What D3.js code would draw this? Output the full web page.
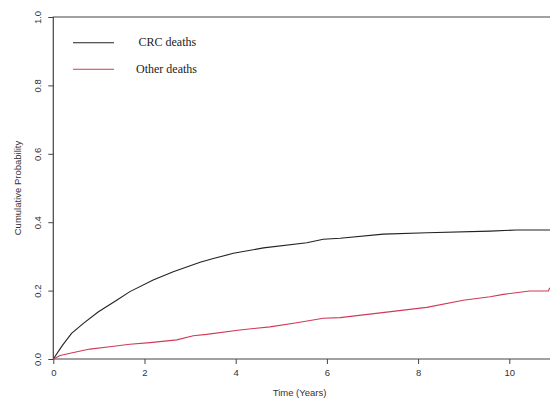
<!DOCTYPE html>
<html>
<head>
<meta charset="utf-8">
<script src="https://cdn.jsdelivr.net/npm/d3@7"></script>
<style>
  body { margin: 0; background: #fff; }
  svg { display: block; }
</style>
</head>
<body>
<figure id="chart" style="margin:0"></figure>
<script>
// values
const crcTime = [0, 0.2, 0.4, 0.66, 0.99, 1.39, 1.68, 2.19, 2.63, 3.22, 3.51, 3.95, 4.61, 5.56, 5.92, 6.29, 7.24, 8.2, 9.58, 10.16, 11];
const crcProb = [0, 0.04, 0.075, 0.104, 0.138, 0.172, 0.197, 0.231, 0.255, 0.283, 0.294, 0.309, 0.325, 0.34, 0.35, 0.353, 0.365, 0.369, 0.374, 0.377, 0.377];
const otherTime = [0, 0.15, 0.37, 0.8, 1.24, 1.68, 2.12, 2.71, 3.07, 3.36, 4.09, 4.75, 5.34, 5.92, 6.29, 6.8, 8.19, 8.99, 9.58, 9.87, 10.45, 10.86, 10.88, 11];
const otherProb = [0, 0.01, 0.017, 0.029, 0.036, 0.043, 0.048, 0.056, 0.068, 0.072, 0.085, 0.094, 0.106, 0.119, 0.121, 0.129, 0.151, 0.172, 0.182, 0.189, 0.199, 0.199, 0.207, 0.207];
const xTicks = [0, 2, 4, 6, 8, 10];
const yTicks = [0, 0.2, 0.4, 0.6, 0.8, 1.0];
const seriesNames = ['CRC deaths', 'Other deaths'];
const seriesColors = ['#222222', '#d03a55'];

const width = 550, height = 399;
const plotLeft = 53.3, plotTop = 17, plotBottom = 359;

const x = d3.scaleLinear().domain([0, 10]).range([plotLeft, 509.3]);
const y = d3.scaleLinear().domain([0, 1]).range([plotBottom, plotTop]);

const svg = d3.select('figure#chart')
  .append('svg')
  .attr('width', width)
  .attr('height', height);

const axisColor = '#444';

// frame (the right side is cut off in the original)
svg.append('path')
  .attr('d', `M${width + 5},${plotTop}H${plotLeft}V${plotBottom}H${width + 5}`)
  .attr('fill', 'none')
  .attr('stroke', axisColor)
  .attr('stroke-width', 1.2);

// x axis
const xAxis = svg.append('g')
  .attr('transform', 'translate(0,' + plotBottom + ')')
  .call(d3.axisBottom(x).tickValues(xTicks).tickFormat(d3.format('d')).tickSize(5).tickPadding(5));
xAxis.select('.domain').remove();

// y axis
const yAxis = svg.append('g')
  .attr('transform', 'translate(' + plotLeft + ',0)')
  .call(d3.axisLeft(y).tickValues(yTicks).tickFormat(d3.format('.1f')).tickSize(5).tickPadding(0));
yAxis.select('.domain').remove();
yAxis.selectAll('text')
  .attr('x', null).attr('dy', null)
  .attr('transform', 'translate(-12,0) rotate(-90)')
  .style('text-anchor', 'middle');

svg.selectAll('.tick line').attr('stroke', axisColor);
svg.selectAll('.tick text')
  .attr('fill', '#333')
  .style('font-family', 'Liberation Sans, Arial, sans-serif')
  .style('font-size', '9.5px');

// axis titles
svg.append('text')
  .attr('x', x(5.4)).attr('y', 396)
  .attr('text-anchor', 'middle')
  .attr('fill', '#333')
  .style('font-family', 'Liberation Sans, Arial, sans-serif')
  .style('font-size', '9.5px')
  .text('Time (Years)');

svg.append('text')
  .attr('transform', 'translate(21,' + y(0.5) + ') rotate(-90)')
  .attr('text-anchor', 'middle')
  .attr('fill', '#333')
  .style('font-family', 'Liberation Sans, Arial, sans-serif')
  .style('font-size', '9.5px')
  .text('Cumulative Probability');

// curves
const plot = svg.append('g');
const line = d3.line()
  .x(d => x(d[0]))
  .y(d => y(d[1]));

const series = [
  d3.zip(crcTime, crcProb),
  d3.zip(otherTime, otherProb)
];

plot.selectAll('path.curve')
  .data(series)
  .enter()
  .append('path')
  .attr('class', 'curve')
  .attr('d', line)
  .attr('fill', 'none')
  .attr('stroke', (d, i) => seriesColors[i])
  .attr('stroke-width', 1.1);

// legend
const legend = svg.selectAll('g.legend')
  .data(seriesNames)
  .enter()
  .append('g')
  .attr('class', 'legend')
  .attr('transform', (d, i) => 'translate(0,' + (42.7 + i * 26.6) + ')');

legend.append('line')
  .attr('x1', 73).attr('x2', 114)
  .attr('stroke', (d, i) => seriesColors[i])
  .attr('stroke-width', 1.1);

legend.append('text')
  .attr('x', (d, i) => i === 0 ? 138.5 : 136)
  .attr('y', 3.5)
  .attr('fill', '#222')
  .style('font-family', 'Liberation Serif, Times New Roman, serif')
  .style('font-size', '12px')
  .text(d => d);
</script>
</body>
</html>
